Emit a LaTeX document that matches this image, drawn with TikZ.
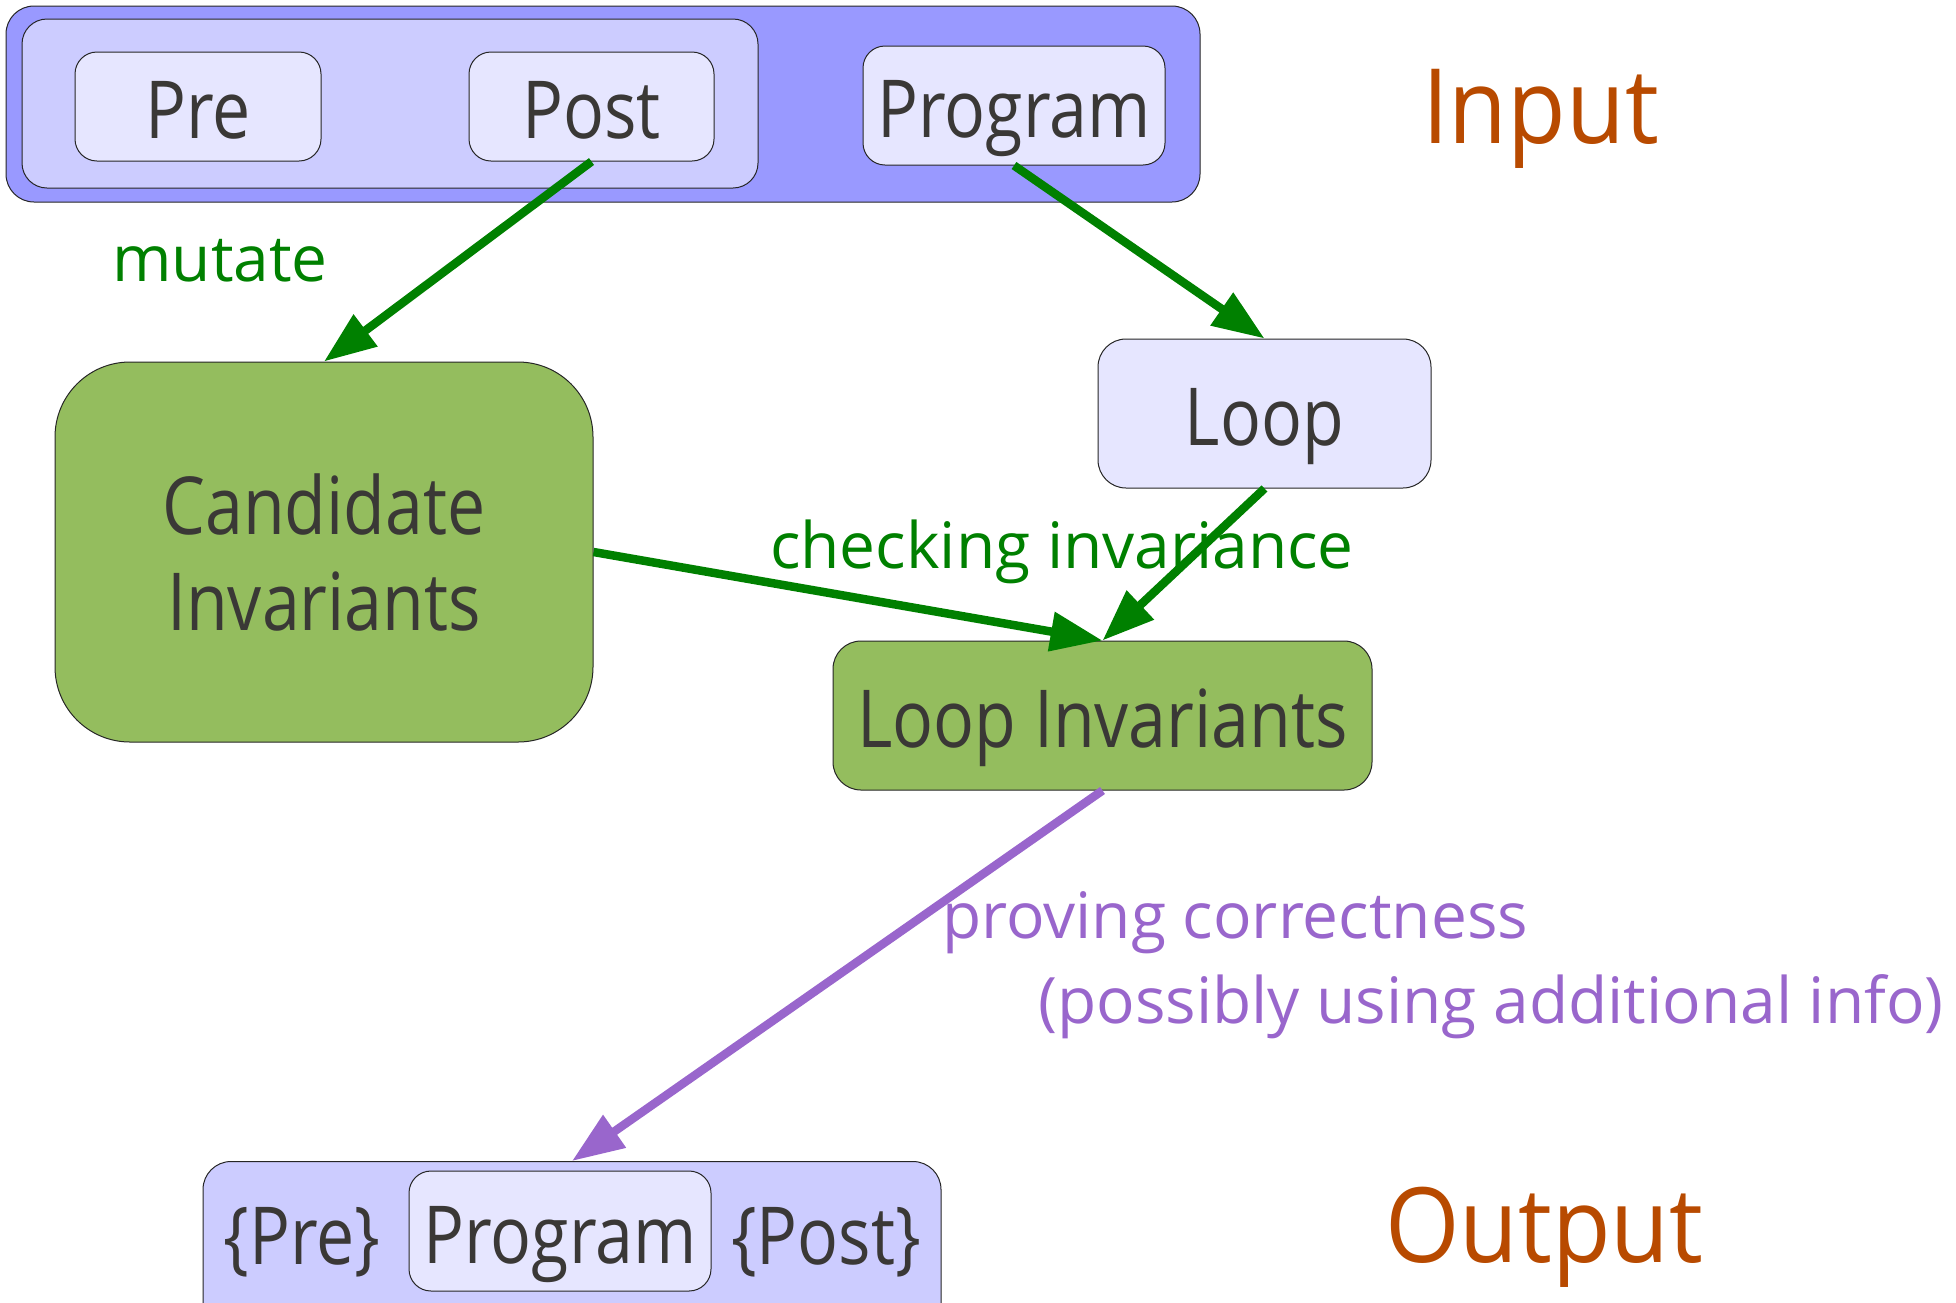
\documentclass[tikz,border=0pt]{standalone}
\usepackage{fontspec}
\setmainfont{Open Sans}[FakeStretch=0.85]
\newfontfamily\labfam{Open Sans}
\newfontfamily\bigfam{Open Sans}[FakeStretch=0.92]
\usetikzlibrary{arrows.meta}
\definecolor{txt}{HTML}{3A3836}
\definecolor{outerblue}{HTML}{9999FF}
\definecolor{innerblue}{HTML}{CCCCFF}
\definecolor{lav}{HTML}{E6E6FF}
\definecolor{leaf}{HTML}{94BD5E}
\definecolor{arrgreen}{HTML}{008000}
\definecolor{arrpurple}{HTML}{9966CC}
\definecolor{rust}{HTML}{B84A00}
\newcommand\nodefnt{\fontsize{80}{96}\selectfont}
\newcommand\labfnt{\labfam\fontsize{64}{78}\selectfont}
\newcommand\bigfnt{\bigfam\fontsize{104}{120}\selectfont}
\tikzset{
  bx/.style={draw=black!85, line width=1pt, text=txt, inner sep=0pt, font=\nodefnt, align=center},
  oneline/.style={text height=64pt, text depth=0pt},
  lavbox/.style={bx, oneline, fill=lav, rounded corners=22pt},
  greenbox/.style={bx, fill=leaf},
  conn/.style={line width=8.5pt, -{Triangle[length=52pt,width=38pt]}},
  gconn/.style={conn, draw=arrgreen, fill=arrgreen},
  pconn/.style={conn, draw=arrpurple, fill=arrpurple},
  glab/.style={text=arrgreen, font=\labfnt, inner sep=0pt},
  plab/.style={text=arrpurple, font=\labfnt, inner sep=0pt},
  biglab/.style={text=rust, font=\bigfnt, inner sep=0pt},
}
\begin{document}
\begin{tikzpicture}[x=1pt,y=-1pt]
\useasboundingbox (0,0) rectangle (1956,1302);
% input group
\node[bx, fill=outerblue, rounded corners=28pt, minimum width=1194pt, minimum height=196pt] (outer) at (603,104) {};
\node[bx, fill=innerblue, rounded corners=25pt, minimum width=736pt, minimum height=169pt] (inner) at (390,103.5) {};
\node[lavbox, minimum width=246pt, minimum height=109pt] (pre) at (198,106.5) {Pre};
\node[lavbox, minimum width=245pt, minimum height=109pt] (post) at (591.5,106.5) {Post};
\node[lavbox, minimum width=302pt, minimum height=119pt] (prog) at (1014,105.5) {Program};
\node[biglab, anchor=base west] (input) at (1422,143) {Input};
% middle
\node[greenbox, rounded corners=75pt, minimum width=538pt, minimum height=380pt] (cand) at (324,552) {Candidate\\Invariants};
\node[lavbox, rounded corners=28pt, minimum width=333pt, minimum height=149pt] (loop) at (1264.5,413.5) {Loop};
\node[greenbox, oneline, rounded corners=28pt, minimum width=539pt, minimum height=149pt] (linv) at (1102.5,715.5) {Loop Invariants};
% output group
\node[bx, fill=innerblue, rounded corners=28pt, minimum width=738pt, minimum height=180pt, anchor=north] (out) at (572,1161) {};
\node[lavbox, minimum width=302pt, minimum height=120pt] (oprog) at (560,1231) {Program};
\node[text=txt, font=\nodefnt, inner sep=0pt] (opre) at (302,1242) {\{Pre\}};
\node[text=txt, font=\nodefnt, inner sep=0pt] (opost) at (826,1242) {\{Post\}};
\node[biglab, anchor=base west] (output) at (1385,1262) {Output};
% labels
\node[glab, anchor=base west] (mutlab) at (112,281) {mutate};
\node[glab, anchor=base west] (chklab) at (770,568) {checking invariance};
\node[plab, anchor=base west] (provlab) at (942,938) {proving correctness};
\node[plab, anchor=base west] (posslab) at (1038,1023) {(possibly using additional info)};
% connectors
\draw[gconn] (post.south) -- (cand.north);
\draw[gconn] (prog.south) -- (loop.north);
\draw[gconn] (cand.east) -- (linv.north);
\draw[gconn] (loop.south) -- (linv.north);
\draw[pconn] (linv.south) -- (out.north);
\end{tikzpicture}
\end{document}
